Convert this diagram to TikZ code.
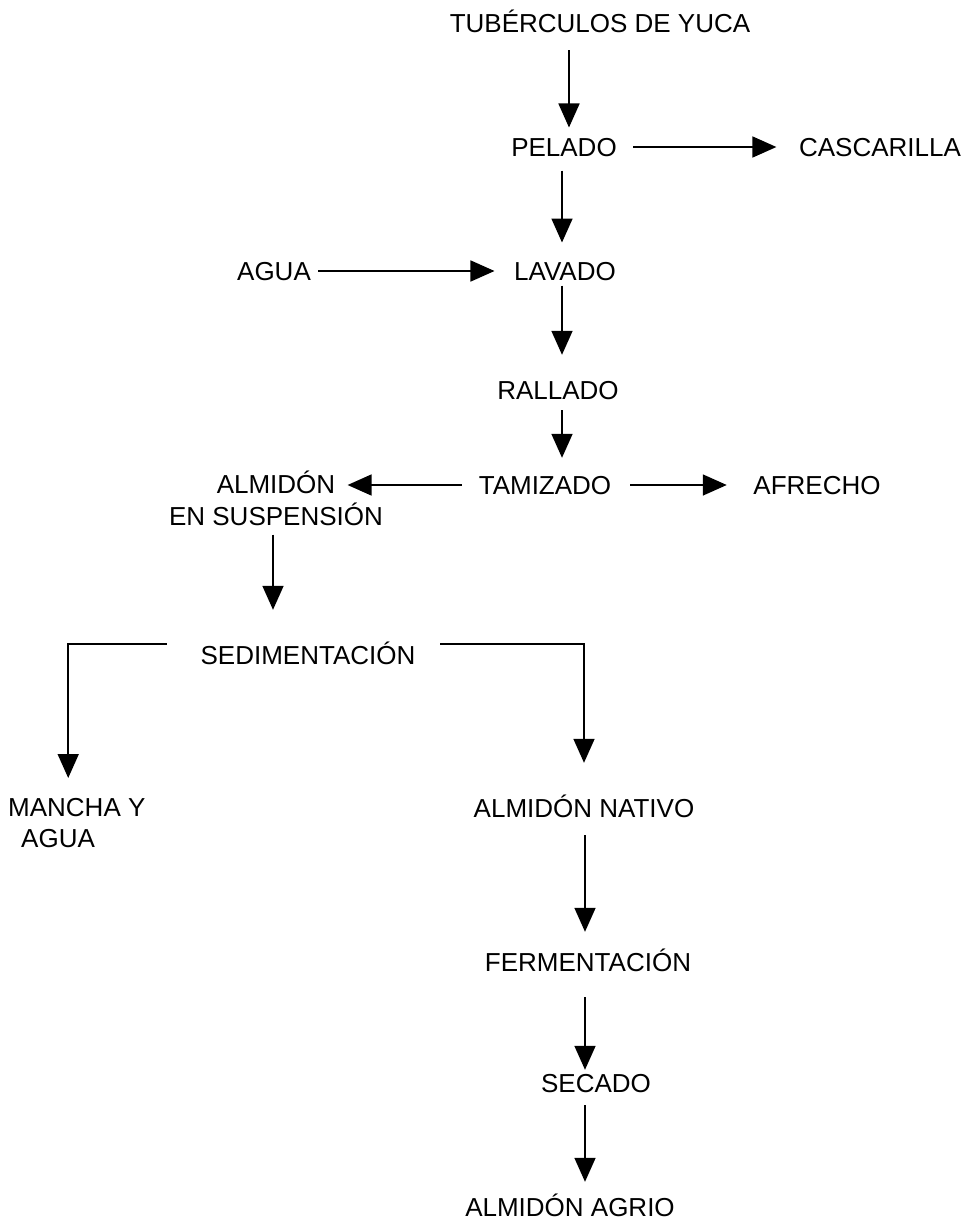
\documentclass[tikz,border=0pt]{standalone}
\usepackage{fontspec}
\setmainfont{Liberation Sans}
\usetikzlibrary{arrows.meta}

\begin{document}
\begin{tikzpicture}[x=1pt, y=-1pt,
		txt/.style={inner sep=0pt, text height=18.6pt, text depth=0pt, font=\fontsize{26}{31.5}\selectfont},
		txttwo/.style={inner sep=0pt, font=\fontsize{26}{31.5}\selectfont},
		flow/.style={line width=1.7pt, -{Triangle[width=21pt,length=24pt]}}]
		%%%%% START %%%%%
		
		\useasboundingbox (0, 0) rectangle (966, 1220);
		
		\node[txt] (tub) at (600, 23) {TUBÉRCULOS DE YUCA};
		\node[txt] (pel) at (564, 147) {PELADO};
		\node[txt] (cas) at (880, 147) {CASCARILLA};
		\node[txt] (agua) at (274, 271) {AGUA};
		\node[txt] (lav) at (565, 271) {LAVADO};
		\node[txt] (ral) at (558, 390) {RALLADO};
		\node[txt] (tam) at (545, 485) {TAMIZADO};
		\node[txt] (afr) at (817, 485) {AFRECHO};
		\node[txttwo, anchor=north, align=center] (sus) at (276, 471) {ALMIDÓN\\EN SUSPENSIÓN};
		\node[txt] (sed) at (308, 655) {SEDIMENTACIÓN};
		\node[txttwo, anchor=north west, align=left] (man) at (8, 797.7) {MANCHA Y\\\hspace*{13pt}AGUA};
		\node[txt] (nat) at (584, 808) {ALMIDÓN NATIVO};
		\node[txt] (fer) at (588, 962) {FERMENTACIÓN};
		\node[txt] (sec) at (596, 1083) {SECADO};
		\node[txt] (agr) at (570, 1207) {ALMIDÓN AGRIO};
		
		\draw[flow] ([xshift=-31pt, yshift=-18pt]tub.south) -- ([xshift=5pt, yshift=10pt]pel.north);
		\draw[flow] ([xshift=16.5pt]pel.east) -- ([xshift=-22.5pt]cas.west);
		\draw[flow] ([xshift=-2pt, yshift=-14pt]pel.south) -- ([xshift=-3pt, yshift=19pt]lav.north);
		\draw[flow] ([xshift=7pt]agua.east) -- ([xshift=-19.5pt]lav.west);
		\draw[flow] ([xshift=-3pt, yshift=-5pt]lav.south) -- ([xshift=4pt, yshift=25.7pt]ral.north);
		\draw[flow] ([xshift=4pt, yshift=-10.7pt]ral.south) -- ([xshift=17pt, yshift=17.7pt]tam.north);
		\draw[flow] ([xshift=-17pt]tam.west) -- ([xshift=-35.5pt]tam.west -| sus.east);
		\draw[flow] ([xshift=19pt]tam.east) -- ([xshift=-26.5pt]afr.west);
		\draw[flow] ([xshift=-3pt, yshift=-9pt]sus.south) -- ([xshift=-35pt, yshift=35.7pt]sed.north);
		
		\draw[flow] ([xshift=-33.5pt, yshift=11pt]sed.west) -| ([xshift=-8.6pt, yshift=19.7pt]man.north);
		\draw[flow] ([xshift=24.5pt, yshift=11pt]sed.east) -| ([yshift=35.7pt]nat.north);
		
		\draw[flow] ([xshift=1pt, yshift=-17.7pt]nat.south) -- ([xshift=-3pt, yshift=20.7pt]fer.north);
		\draw[flow] ([xshift=-3pt, yshift=-25.7pt]fer.south) -- ([xshift=-11pt, yshift=3.7pt]sec.north);
		\draw[flow] ([xshift=-11pt, yshift=-12.7pt]sec.south) -- ([xshift=15pt, yshift=15.7pt]agr.north);
		
		%%%%% END %%%%%
\end{tikzpicture}
\end{document}
